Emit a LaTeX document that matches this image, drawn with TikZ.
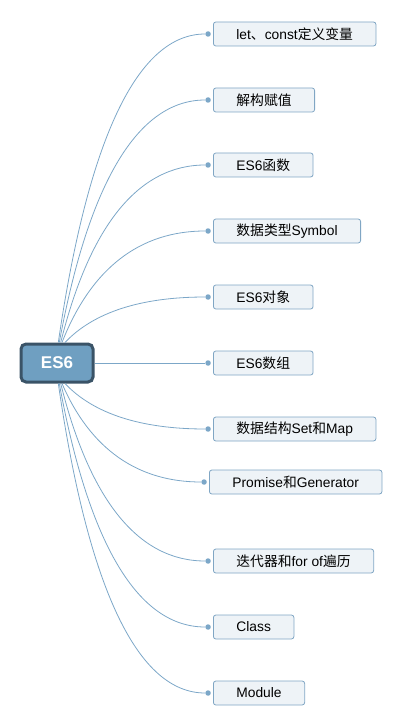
\documentclass[tikz,border=0pt]{standalone}
\usepackage{fontspec}
\setmainfont{Liberation Sans}
\newfontfamily\cjk{Noto Sans CJK SC}
\usetikzlibrary{positioning, calc}
\definecolor{linecol}{RGB}{124,167,200}
\definecolor{boxfill}{RGB}{238,243,247}
\definecolor{boxline}{RGB}{128,166,196}
\definecolor{rootfill}{RGB}{111,159,193}
\definecolor{rootline}{RGB}{58,83,103}
\tikzstyle{root} = [rectangle, rounded corners=5pt, minimum width=72pt, minimum height=38pt, line width=3pt, draw=rootline, fill=rootfill, text=white, font=\fontsize{17}{20}\selectfont\bfseries]
\tikzstyle{topic} = [rectangle, rounded corners=2.5pt, anchor=west, minimum height=24pt, inner xsep=23pt, draw=boxline, fill=boxfill, line width=0.8pt, font=\fontsize{13.8}{16}\selectfont]
\tikzstyle{dot} = [circle, fill=linecol, inner sep=0pt, minimum size=5.5pt]
\tikzstyle{branch} = [draw=linecol, line width=0.8pt]
\tikzstyle{arc} = [to path={let \p1=(\tikztostart), \p2=(\tikztotarget) in .. controls ({0.8*\x1+0.2*\x2}, {0.333*\y1+0.667*\y2}) and ({0.467*\x1+0.533*\x2}, \y2) .. (\tikztotarget)}]

\begin{document}
\begin{tikzpicture}[x=1pt, y=-1pt]
    \useasboundingbox (0,0) rectangle (407,727);

    \node (es6) [root] at (57,363) {ES6};

    \node (let) [topic] at (213,34) {let{\cjk 、}const{\cjk 定义变量}};
    \node (destr) [topic] at (213,100) {{\cjk 解构赋值}};
    \node (func) [topic] at (213,165) {ES6{\cjk 函数}};
    \node (symbol) [topic] at (213,231) {{\cjk 数据类型}Symbol};
    \node (object) [topic] at (213,297) {ES6{\cjk 对象}};
    \node (array) [topic] at (213,363) {ES6{\cjk 数组}};
    \node (setmap) [topic] at (213,429) {{\cjk 数据结构}Set{\cjk 和}Map};
    \node (promise) [topic] at (209,482) {Promise{\cjk 和}Generator};
    \node (iter) [topic] at (213,561) {{\cjk 迭代器和}for of{\cjk 遍历}};
    \node (class) [topic] at (213,627) {Class};
    \node (module) [topic] at (213,693) {Module};

    \node (let-dot) [dot, left=2pt of let.west] {};
    \node (destr-dot) [dot, left=2pt of destr.west] {};
    \node (func-dot) [dot, left=2pt of func.west] {};
    \node (symbol-dot) [dot, left=2pt of symbol.west] {};
    \node (object-dot) [dot, left=2pt of object.west] {};
    \node (array-dot) [dot, left=2pt of array.west] {};
    \node (setmap-dot) [dot, left=2pt of setmap.west] {};
    \node (promise-dot) [dot, left=2pt of promise.west] {};
    \node (iter-dot) [dot, left=2pt of iter.west] {};
    \node (class-dot) [dot, left=2pt of class.west] {};
    \node (module-dot) [dot, left=2pt of module.west] {};

    % start points on the root box
    \coordinate (let-start) at ([xshift=1.3pt]es6.north);
    \coordinate (destr-start) at ([xshift=2.3pt]es6.north);
    \coordinate (func-start) at ([xshift=3.7pt]es6.north);
    \coordinate (symbol-start) at ([xshift=5pt]es6.north);
    \coordinate (object-start) at ([xshift=8pt]es6.north);
    \coordinate (setmap-start) at ([xshift=8pt]es6.south);
    \coordinate (promise-start) at ([xshift=5pt]es6.south);
    \coordinate (iter-start) at ([xshift=3.7pt]es6.south);
    \coordinate (class-start) at ([xshift=2.3pt]es6.south);
    \coordinate (module-start) at ([xshift=1.3pt]es6.south);

    \draw [branch, arc] (let-start) to (let-dot);
    \draw [branch, arc] (destr-start) to (destr-dot);
    \draw [branch, arc] (func-start) to (func-dot);
    \draw [branch, arc] (symbol-start) to (symbol-dot);
    \draw [branch, arc] (object-start) to (object-dot);

    \draw [branch] (es6.east) -- (array-dot);

    \draw [branch, arc] (setmap-start) to (setmap-dot);
    \draw [branch, arc] (promise-start) to (promise-dot);
    \draw [branch, arc] (iter-start) to (iter-dot);
    \draw [branch, arc] (class-start) to (class-dot);
    \draw [branch, arc] (module-start) to (module-dot);
\end{tikzpicture}
\end{document}
